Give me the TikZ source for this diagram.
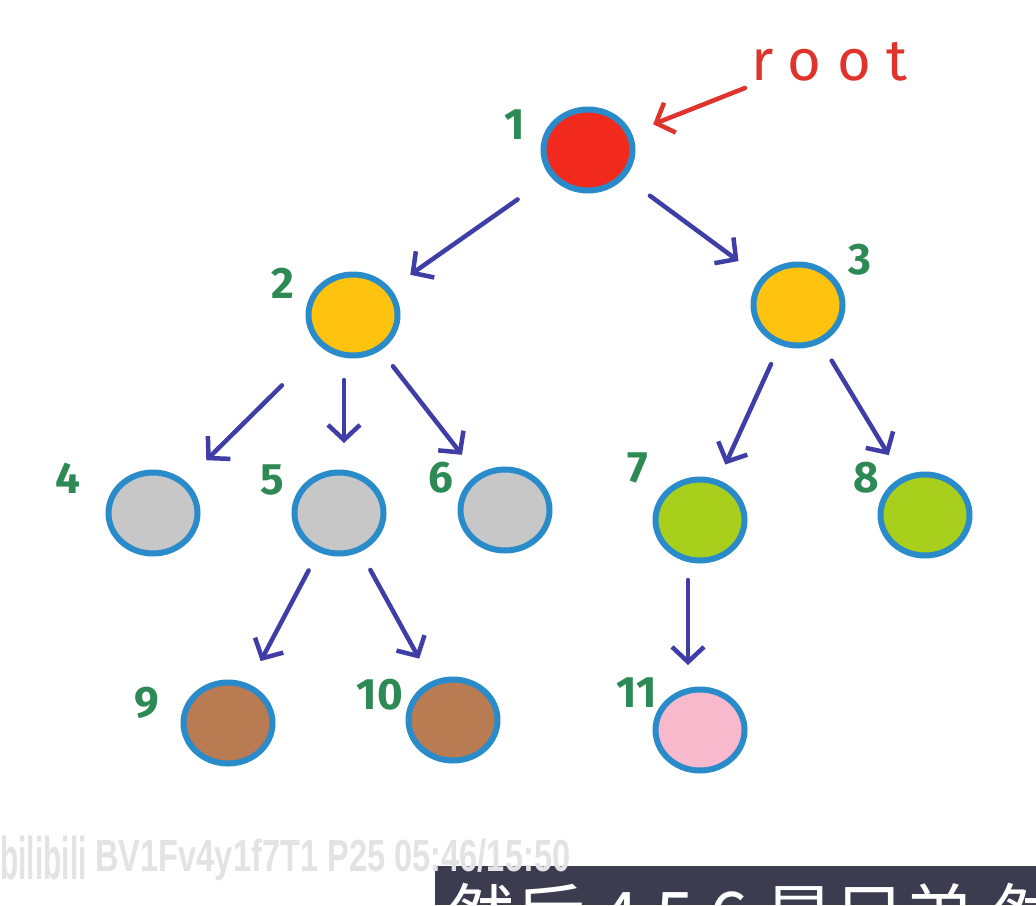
\documentclass[tikz,border=0pt]{standalone}
\usepackage{fontspec}
\setmainfont{Fira Sans}
\newfontfamily\cjkfont{Noto Sans CJK SC}
\newfontfamily\wmfont{Liberation Sans}
\usetikzlibrary{shapes.geometric,arrows.meta}

\definecolor{rootred}{HTML}{F22A1E}
\definecolor{midorange}{HTML}{FFC20E}
\definecolor{leafgrey}{HTML}{C7C7C7}
\definecolor{leafgreen}{HTML}{A9CF1D}
\definecolor{leafbrown}{HTML}{B97B52}
\definecolor{leafpink}{HTML}{F8B9CD}
\definecolor{rimblue}{HTML}{2A8BCB}
\definecolor{edgeblue}{HTML}{3E3EA6}
\definecolor{numgreen}{HTML}{2E8A55}
\definecolor{rootcol}{HTML}{E0332B}
\definecolor{wmgrey}{HTML}{E3E3E6}
\definecolor{barslate}{HTML}{3C3C50}

\begin{document}
\begin{tikzpicture}[
    x=1pt, y=-1pt,
    >={Straight Barb[length=15pt,width=32pt]},
    vtx/.style={
        ellipse, draw=rimblue, line width=6pt,
        minimum width=89pt, minimum height=81pt, inner sep=0pt
    },
    lbl/.style={text=numgreen, font=\fontsize{44}{44}\selectfont\bfseries},
    arr/.style={->, line width=4.5pt, color=edgeblue, line cap=round,
        shorten <=65pt, shorten >=70pt}
]
    \useasboundingbox[fill=white] (0,0) rectangle (1036,905);

    % the tree
    \node[vtx, fill=rootred]   (n1)  at (588,150) {};
    \node[vtx, fill=midorange] (n2)  at (353,315) {};
    \node[vtx, fill=midorange] (n3)  at (798,305) {};
    \node[vtx, fill=leafgrey]  (n4)  at (153,513) {};
    \node[vtx, fill=leafgrey]  (n5)  at (339,513) {};
    \node[vtx, fill=leafgrey]  (n6)  at (505,510) {};
    \node[vtx, fill=leafgreen] (n7)  at (700,520) {};
    \node[vtx, fill=leafgreen] (n8)  at (925,515) {};
    \node[vtx, fill=leafbrown] (n9)  at (228,723) {};
    \node[vtx, fill=leafbrown] (n10) at (453,720) {};
    \node[vtx, fill=leafpink]  (n11) at (700,730) {};

    % numbers
    \node[lbl] (l1)  at (515,125) {1};
    \node[lbl] (l2)  at (283,283) {2};
    \node[lbl] (l3)  at (860,260) {3};
    \node[lbl] (l4)  at (68,478)  {4};
    \node[lbl] (l5)  at (272,480) {5};
    \node[lbl] (l6)  at (441,478) {6};
    \node[lbl] (l7)  at (638,468) {7};
    \node[lbl] (l8)  at (866,478) {8};
    \node[lbl] (l9)  at (147,703) {9};
    \node[lbl] (l10) at (380,695) {10};
    \node[lbl] (l11) at (637,693) {11};

    \draw[arr, shorten <=86pt] (n1.center) -- (n2.center);
    \draw[arr, shorten <=77pt, shorten >=74pt] (n1.center) -- (n3.center);
    \draw[arr, shorten <=100pt, shorten >=75pt] (n2.center) -- (n4.center);
    \draw[arr] ([xshift=-9pt]n2.center) -- ([xshift=5pt]n5.center);
    \draw[arr] (n2.center) -- (n6.center);
    \draw[arr, shorten >=61pt] (n3.center) -- (n7.center);
    \draw[arr] (n3.center) -- (n8.center);
    \draw[arr] (n5.center) -- (n9.center);
    \draw[arr] (n5.center) -- (n10.center);
    \draw[arr, shorten <=60pt, shorten >=65pt] ([xshift=-12pt]n7.center) -- ([xshift=-12pt]n11.center);

    % root marker
    \node[anchor=base west, text=rootcol,
        font=\fontsize{58}{58}\selectfont\addfontfeature{LetterSpace=27}] (rt) at (748,80) {root};
    \coordinate (rtail) at (745,88);
    \draw[->, line width=4.5pt, color=rootcol, line cap=round, shorten >=70pt] (rtail) -- (n1.center);

    % video overlay
    \fill[barslate] (435,866) rectangle (1036,905);
    \begin{scope}
        \clip (435,866) rectangle (1036,905);
        \node[anchor=base west, text=white, inner sep=0pt,
            font=\cjkfont\fontsize{70}{70}\selectfont] (sub) at (445,942) {然后 4 5 6 是兄弟 然后};
    \end{scope}
    \node[anchor=west, text=wmgrey, inner sep=0pt,
        font=\wmfont\fontsize{45}{45}\selectfont\bfseries] (wm) at (95,860)
        {\scalebox{0.725}[1]{BV1Fv4y1f7T1 P25 05:46/15:50}};
    \node[anchor=west, text=wmgrey, inner sep=0pt,
        font=\wmfont\fontsize{60}{60}\selectfont\bfseries] (logo) at (0,858)
        {\scalebox{0.5}[1]{bilibili}};
\end{tikzpicture}
\end{document}
